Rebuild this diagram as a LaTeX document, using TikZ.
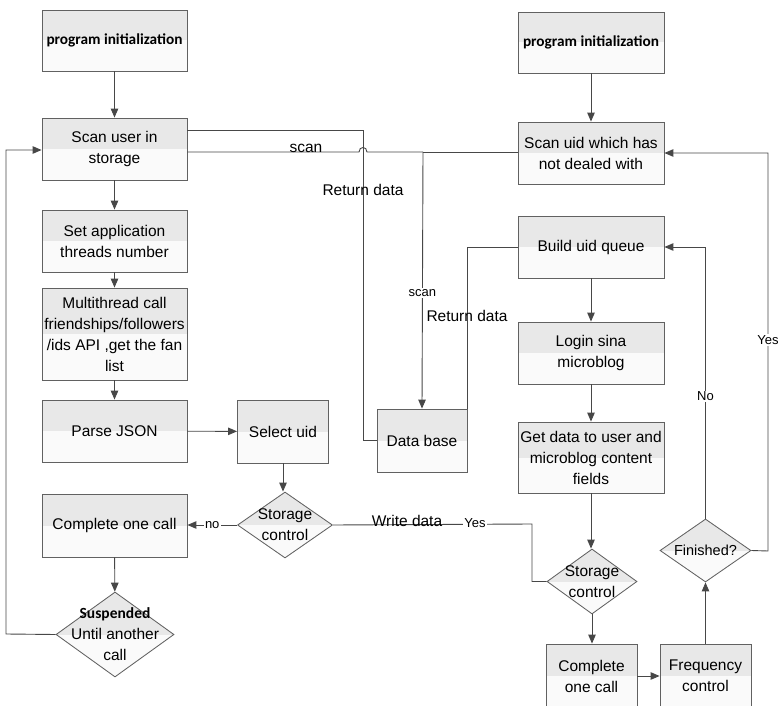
\documentclass[tikz,border=0pt]{standalone}
\usepackage{fontspec}
\setmainfont{Liberation Sans}
\newfontfamily\calfont{Carlito}
\usetikzlibrary{arrows.meta,shapes.geometric}
\begin{document}
\begin{tikzpicture}[x=1pt,y=-1pt,
  halftone/.style={path picture={\fill[black!9] (path picture bounding box.north west) rectangle (path picture bounding box.east);}},
  box/.style={draw=black!62, line width=0.85pt, fill=black!2, halftone, inner sep=1pt, align=center,
    font=\fontsize{15.5}{21}\selectfont},
  dia/.style={diamond, draw=black!62, line width=0.85pt, fill=black!2, halftone, inner sep=0pt},
  dtext/.style={align=center, inner sep=0pt, font=\fontsize{15.5}{21}\selectfont},
  conn/.style={draw=black!72, line width=0.9pt},
  arr/.style={conn, -{Triangle[length=9pt,width=7.5pt]}},
  lbl/.style={inner sep=1pt, font=\fontsize{15.5}{18}\selectfont},
  slbl/.style={inner sep=1.2pt, font=\fontsize{13}{16}\selectfont, fill=white},
]
\useasboundingbox (0,0) rectangle (780,706);
\clip (0,0) rectangle (780,706);

% ---------- left column ----------
\node[box, minimum width=145, minimum height=61, font=\calfont\bfseries\fontsize{15.3}{18}\selectfont] (init1) at (114.5,40.5) {program initialization};
\node[box, minimum width=145, minimum height=62] (scanU) at (114.5,149) {Scan user in\\storage};
\node[box, minimum width=145, minimum height=62] (setApp) at (114.5,241) {Set application\\threads number};
\node[box, minimum width=145, minimum height=92] (multi) at (114.5,334) {Multithread call\\friendships/followers\\/ids API ,get the fan\\list};
\node[box, minimum width=145, minimum height=62] (parse) at (114.5,431) {Parse JSON};
\node[box, minimum width=91, minimum height=63] (select) at (283,431.5) {Select uid};
\node[dia, minimum width=95, minimum height=66] (store1) at (285,525) {};
\node[dtext] (store1t) at (285,525) {Storage\\control};
\node[box, minimum width=145, minimum height=63] (compL) at (114.5,525.5) {Complete one call};
\node[dia, minimum width=118, minimum height=85] (susp) at (115,634.5) {};
\node[dtext] (suspt) at (115,634) {{\calfont\bfseries\fontsize{15.5}{16}\selectfont Suspended}\\Until another\\call};

% ---------- right column ----------
\node[box, minimum width=146, minimum height=61, font=\calfont\bfseries\fontsize{15.3}{18}\selectfont] (init2) at (591,42.5) {program initialization};
\node[box, minimum width=146, minimum height=62] (scanUid) at (591,153) {Scan uid which has\\not dealed with};
\node[box, minimum width=146, minimum height=62] (build) at (591,247) {Build uid queue};
\node[box, minimum width=146, minimum height=62] (login) at (591,353) {Login sina\\microblog};
\node[box, minimum width=146, minimum height=71] (getData) at (591,457.5) {Get data to user and\\microblog content\\fields};
\node[dia, minimum width=90, minimum height=65] (store2) at (592,581.5) {};
\node[dtext] (store2t) at (592,581.5) {Storage\\control};
\node[box, minimum width=91, minimum height=64] (compR) at (591.5,676) {Complete\\one call};
\node[box, minimum width=91, minimum height=64] (freq) at (705.5,676) {Frequency\\control};
\node[dia, minimum width=91, minimum height=63] (fin) at (705.5,550.5) {};
\node[dtext, font=\fontsize{14.5}{18}\selectfont] (fint) at (705.5,550.5) {Finished?};
\node[box, minimum width=90, minimum height=63] (db) at (422,440.5) {Data base};

% ---------- helper coordinates ----------
\coordinate (jx) at (363,130);
\coordinate (sx) at (423,152);
\coordinate (loopL) at (6,634);
\coordinate (wy) at (532,524);
\coordinate (ry) at (768,551);

% ---------- left flow ----------
\draw[arr] (init1) -- (scanU);
\draw[arr] (scanU) -- (setApp);
\draw[arr] (setApp) -- (multi);
\draw[arr] (multi) -- (parse);
\draw[arr] (parse) -- (select);
\draw[arr] (select.south) -- (select.south |- store1.north);
\draw[arr] (store1.west) -- node[slbl, pos=0.5] {no} (store1.west -| compL.east);
\draw[arr] (compL) -- (susp);
\draw[arr] (susp.west) -- (loopL) |- (scanU.west |- 0,150);

% return data to scan user
\draw[conn] (scanU.east |- jx) -- (jx) |- (db.west);
\node[lbl] (rd1) at (363,190) {Return data};

% scan line with hop
\draw[conn] (scanU.east |- sx) -- (359,152) .. controls (359,146) and (367,146) .. (367,152) -- (sx);
\draw[conn] (scanUid.west |- sx) -- (sx);
\draw[arr] (sx) -- node[slbl, pos=0.55] {scan} (db.north);
\node[lbl] (scan1) at (306,148) {scan};

% return data from db to build queue
\draw[conn] (build.west) -| (db.north east);
\node[lbl] (rd2) at (467,316) {Return data};

% write data
\draw[conn] (store1.east) -- (wy) |- (store2.west);
\node[lbl] (wd) at (407,521) {Write data};
\node[slbl, fill=white] (wyes) at (475,523) {Yes};

% ---------- right flow ----------
\draw[arr] (init2) -- (scanUid);
\draw[arr] (build) -- (login);
\draw[arr] (login) -- (getData);
\draw[arr] (getData.south) -- (getData.south |- store2.north);
\draw[arr] (store2.south) -- (store2.south |- compR.north);
\draw[arr] (compR) -- (freq);
\draw[arr] (freq) -- (fin);
\draw[arr] (fin.north) -- node[slbl, pos=0.45] {No} (fin.north |- build.east) -- (build.east);
\draw[arr] (fin.east) -- (ry) -- node[slbl, pos=0.53] {Yes} (ry |- scanUid.east) -- (scanUid.east);
\end{tikzpicture}
\end{document}
